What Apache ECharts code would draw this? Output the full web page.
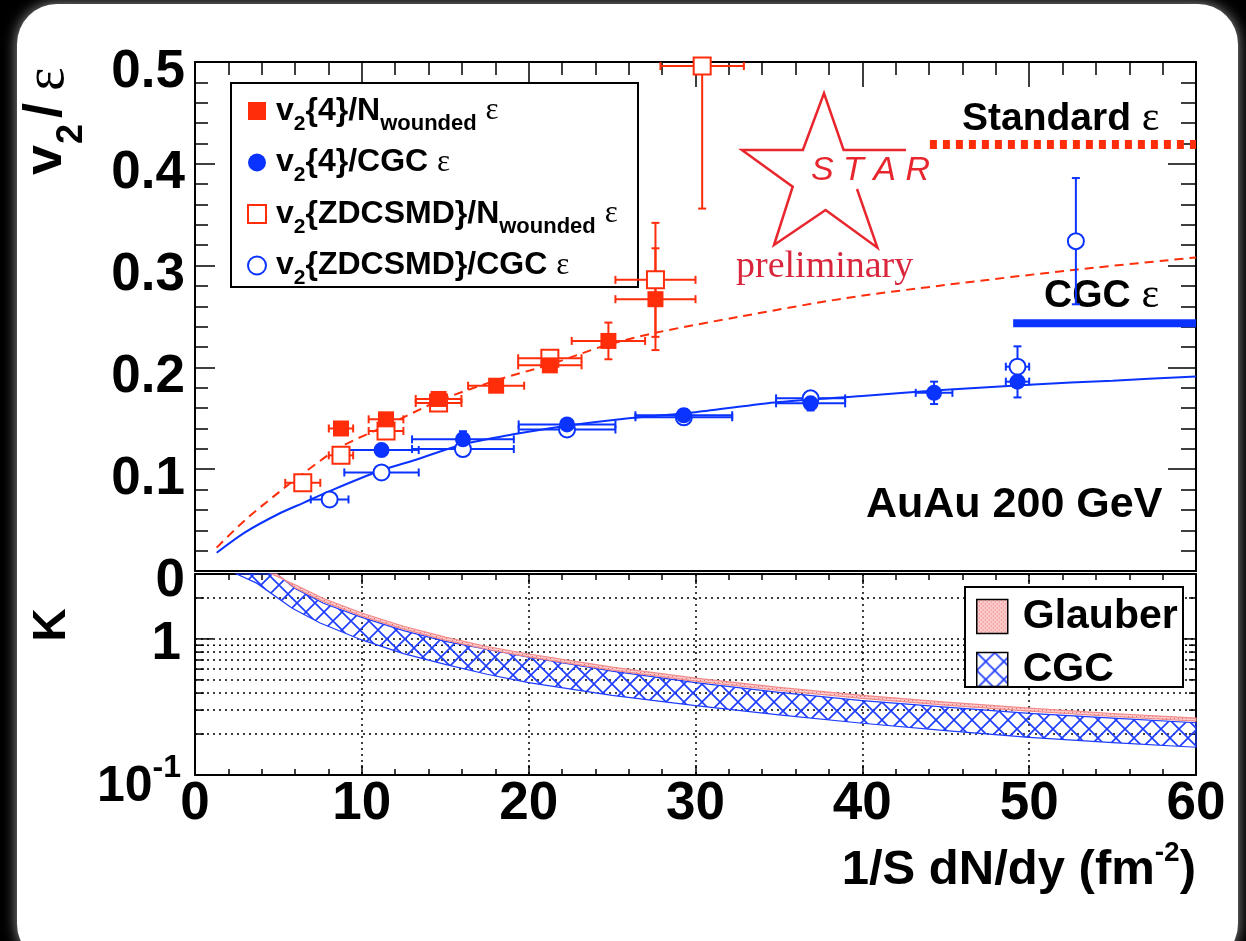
<!DOCTYPE html>
<html>
<head>
<meta charset="utf-8">
<script src="https://cdn.jsdelivr.net/npm/echarts@6/dist/echarts.min.js"></script>
<style>
  html, body { margin: 0; padding: 0; background: #000; }
  #chart { width: 1246px; height: 941px; }
</style>
</head>
<body>
<div id="chart"></div>
<script>
// ---- axis ranges ----
const X_RANGE = [0, 60];
const V_RANGE = [0, 0.5];
const K_RANGE = [0.1, 3];

// ---- v2/eps points: [1/S dN/dy, v2/eps, x error, y error] ----
const v4Glauber = [
  [8.75, 0.140, 0.73, 0.004], [11.45, 0.149, 1.04, 0.004], [14.6, 0.169, 1.37, 0.005],
  [18.05, 0.182, 1.68, 0.005], [21.27, 0.202, 1.9, 0.006], [24.78, 0.226, 2.2, 0.018],
  [27.6, 0.267, 2.4, 0.050]
];
const zdcGlauber = [
  [6.46, 0.0866, 1.05, 0.004], [8.75, 0.1136, 0.73, 0.004], [11.45, 0.1375, 1.04, 0.004],
  [14.6, 0.165, 1.37, 0.004], [21.27, 0.209, 1.9, 0.005], [27.6, 0.286, 2.4, 0.056],
  [30.4, 0.496, 2.5, 0.14]
];
const v4Cgc = [
  [11.18, 0.1188, 2.23, 0.003], [16.06, 0.1293, 3.05, 0.008], [22.3, 0.144, 2.9, 0.005],
  [29.3, 0.153, 2.9, 0.006], [36.9, 0.1647, 2.07, 0.007], [44.3, 0.175, 1.1, 0.011],
  [49.3, 0.186, 0.7, 0.0155]
];
const zdcCgc = [
  [8.07, 0.0703, 1.13, 0.003], [11.18, 0.0968, 2.23, 0.003], [16.06, 0.1198, 3.05, 0.004],
  [22.3, 0.139, 2.9, 0.004], [29.3, 0.151, 2.9, 0.004], [36.9, 0.1696, 2.07, 0.006],
  [49.3, 0.2007, 0.7, 0.02], [52.8, 0.324, 0, 0.062]
];

// ---- fit curves [x, v2/eps] ----
const glauberFit = [
  [1.3, 0.023], [3, 0.050], [5, 0.077], [6.5, 0.096], [8.75, 0.122], [11.5, 0.143],
  [14.6, 0.167], [18, 0.187], [21.3, 0.203], [24.5, 0.221], [27.6, 0.234], [32.7, 0.250],
  [39, 0.268], [45, 0.281], [52.8, 0.296], [60, 0.308]
];
const cgcFit = [
  [1.3, 0.018], [3, 0.038], [5, 0.056], [6.5, 0.067], [8, 0.078], [11, 0.098], [13, 0.108],
  [16, 0.124], [19, 0.134], [22, 0.142], [26, 0.150], [30, 0.156], [35, 0.166], [40, 0.172],
  [45, 0.178], [50, 0.183], [55, 0.187], [60, 0.191]
];

// ---- hydro limits ----
const standardEpsLimit = [[44.05, 0.419], [60, 0.419]];
const cgcEpsLimit = [[49.04, 0.2434], [60, 0.2434]];

// ---- Knudsen number bands [x, K] ----
const glauberKHigh = [
  [4.6, 3.0], [6, 2.5], [7.7, 1.98], [10, 1.55], [12.5, 1.24], [15, 1.03], [17.5, 0.88],
  [20, 0.775], [25, 0.62], [30, 0.515], [35, 0.44], [40, 0.385], [45, 0.343], [50, 0.31],
  [55, 0.283], [60, 0.262]
];
const glauberKLow = [
  [4.9, 3.0], [6, 2.38], [7.7, 1.88], [10, 1.47], [12.5, 1.18], [15, 0.98], [17.5, 0.84],
  [20, 0.737], [25, 0.59], [30, 0.49], [35, 0.418], [40, 0.366], [45, 0.326], [50, 0.295],
  [55, 0.269], [60, 0.249]
];
const cgcKHigh = [
  [4.9, 3.0], [6, 2.35], [7.7, 1.83], [10, 1.44], [12.5, 1.15], [15, 0.96], [20, 0.734],
  [25, 0.58], [30, 0.477], [35, 0.405], [40, 0.352], [45, 0.315], [50, 0.284], [55, 0.262],
  [60, 0.242]
];
const cgcKLow = [
  [2.5, 3.0], [3.7, 2.57], [5.83, 1.68], [7.5, 1.31], [10, 0.983], [12.5, 0.78], [15, 0.65],
  [17.5, 0.55], [20, 0.477], [25, 0.385], [30, 0.323], [35, 0.277], [40, 0.24], [45, 0.212],
  [50, 0.189], [55, 0.173], [60, 0.16]
];
const kGrid = [2, 1, 0.9, 0.8, 0.7, 0.6, 0.5, 0.4, 0.3, 0.2];

// ---- styling ----
const RED = '#ff2d0a';
const BLUE = '#0a33ff';
const SANS = '"Liberation Sans", Arial, Helvetica, sans-serif';
const SERIF = '"Liberation Serif", "Times New Roman", serif';

function hatchPattern() {
  const c = document.createElement('canvas');
  c.width = 18; c.height = 18;
  const g = c.getContext('2d');
  g.strokeStyle = '#1d3cff';
  g.lineWidth = 1.6;
  g.beginPath();
  g.moveTo(0, 0); g.lineTo(18, 18);
  g.moveTo(18, 0); g.lineTo(0, 18);
  g.stroke();
  return { image: c, repeat: 'repeat' };
}
function dotPattern() {
  const c = document.createElement('canvas');
  c.width = 4; c.height = 4;
  const g = c.getContext('2d');
  g.fillStyle = '#fbcaca';
  g.fillRect(0, 0, 4, 4);
  g.fillStyle = '#ee6a6a';
  g.fillRect(0, 0, 1, 1);
  g.fillRect(2, 2, 1, 1);
  return { image: c, repeat: 'repeat' };
}
const HATCH = hatchPattern();
const DOTS = dotPattern();

function bandRenderer(high, low, fill, stroke) {
  return function (params, api) {
    if (params.dataIndex !== 0) return null;
    const pts = high.map(p => api.coord(p)).concat(low.slice().reverse().map(p => api.coord(p)));
    return { type: 'polygon', shape: { points: pts }, style: { fill: fill, stroke: stroke, lineWidth: 1.2 }, silent: true };
  };
}

function errorBars(color) {
  return function (params, api) {
    const x = api.value(0), y = api.value(1), ex = api.value(2), ey = api.value(3);
    const st = { stroke: color, lineWidth: 2 };
    const cap = 4;
    const kids = [];
    const seg = (x1, y1, x2, y2) => kids.push({ type: 'line', shape: { x1, y1, x2, y2 }, style: st, silent: true });
    if (ex > 0) {
      const a = api.coord([x - ex, y]), b = api.coord([x + ex, y]);
      seg(a[0], a[1], b[0], b[1]);
      seg(a[0], a[1] - cap, a[0], a[1] + cap);
      seg(b[0], b[1] - cap, b[0], b[1] + cap);
    }
    if (ey > 0) {
      const hi = Math.min(y + ey, V_RANGE[1]);
      const a = api.coord([x, y - ey]), b = api.coord([x, hi]);
      seg(a[0], a[1], b[0], b[1]);
      seg(a[0] - cap, a[1], a[0] + cap, a[1]);
      if (y + ey <= V_RANGE[1]) seg(b[0] - cap, b[1], b[0] + cap, b[1]);
    }
    return { type: 'group', children: kids };
  };
}

function kGridRenderer(params, api) {
  const v = api.value(1);
  const L = api.coord([X_RANGE[0], v]), R = api.coord([X_RANGE[1], v]);
  const major = Math.abs(v - 1) < 1e-9;
  const lenL = major ? 18 : 9, lenR = major ? 15 : 7;
  return {
    type: 'group', silent: true,
    children: [
      { type: 'line', shape: { x1: L[0], y1: L[1], x2: R[0], y2: R[1] }, style: { stroke: '#000', lineWidth: 1.5, lineDash: [2, 4] } },
      { type: 'line', shape: { x1: L[0], y1: L[1], x2: L[0] + lenL, y2: L[1] }, style: { stroke: '#000', lineWidth: 1.5 } },
      { type: 'line', shape: { x1: R[0] - lenR, y1: R[1], x2: R[0], y2: R[1] }, style: { stroke: '#000', lineWidth: 1.5 } }
    ]
  };
}

const NAME_V4_GL = 'v2{4}/Nwounded ε';
const NAME_V4_CGC = 'v2{4}/CGC ε';
const NAME_ZDC_GL = 'v2{ZDCSMD}/Nwounded ε';
const NAME_ZDC_CGC = 'v2{ZDCSMD}/CGC ε';
const legendText = {};
legendText[NAME_V4_GL] = 'v{s|2}{4}/N{w|wounded} {e|ε}';
legendText[NAME_V4_CGC] = 'v{s|2}{4}/CGC {e|ε}';
legendText[NAME_ZDC_GL] = 'v{s|2}{ZDCSMD}/N{w|wounded} {e|ε}';
legendText[NAME_ZDC_CGC] = 'v{s|2}{ZDCSMD}/CGC {e|ε}';

const lineAx = { onZero: false, lineStyle: { color: '#000', width: 2 } };
const tickSt = { color: '#000', width: 1.5 };
const tickLabel = { fontFamily: SANS, fontWeight: 'bold', fontSize: 53, color: '#000' };

const chart = echarts.init(document.getElementById('chart'), null, { width: 1246, height: 941 });

chart.setOption({
  animation: false,
  backgroundColor: '#000',
  grid: [
    { left: 195, right: 50, top: 62, height: 509, outerBoundsMode: 'none', containLabel: false },
    { left: 195, right: 50, top: 574, height: 201, outerBoundsMode: 'none', containLabel: false }
  ],
  xAxis: [
    { gridIndex: 0, type: 'value', min: X_RANGE[0], max: X_RANGE[1], interval: 10, position: 'bottom',
      axisLine: lineAx, axisTick: { show: false }, axisLabel: { show: false }, splitLine: { show: false } },
    { gridIndex: 0, type: 'value', min: X_RANGE[0], max: X_RANGE[1], interval: 10, position: 'top',
      axisLine: lineAx, axisTick: { inside: true, length: 25, lineStyle: tickSt },
      minorTick: { show: true, splitNumber: 5, length: 13, lineStyle: tickSt },
      axisLabel: { show: false }, splitLine: { show: false } },
    { gridIndex: 1, type: 'value', min: X_RANGE[0], max: X_RANGE[1], interval: 10, position: 'bottom',
      axisLine: lineAx, axisTick: { inside: true, length: 10, lineStyle: tickSt },
      minorTick: { show: true, splitNumber: 5, length: 6, lineStyle: tickSt },
      axisLabel: Object.assign({ margin: 3, lineHeight: 53 }, tickLabel),
      splitLine: { show: true, lineStyle: { color: '#000', width: 1.5, type: [2, 4] } } },
    { gridIndex: 1, type: 'value', min: X_RANGE[0], max: X_RANGE[1], interval: 10, position: 'top',
      axisLine: lineAx, axisTick: { inside: true, length: 10, lineStyle: tickSt },
      minorTick: { show: true, splitNumber: 5, length: 6, lineStyle: tickSt },
      axisLabel: { show: false }, splitLine: { show: false } }
  ],
  yAxis: [
    { gridIndex: 0, type: 'value', min: V_RANGE[0], max: V_RANGE[1], interval: 0.1, position: 'left',
      axisLine: lineAx, axisTick: { inside: true, length: 20, lineStyle: tickSt },
      minorTick: { show: true, splitNumber: 5, length: 13, lineStyle: tickSt },
      axisLabel: {
        margin: 10,
        formatter: function (v) { return '{a|' + (v === 0 ? '0' : v.toFixed(1)) + '}'; },
        rich: { a: { fontFamily: SANS, fontWeight: 'bold', fontSize: 53, color: '#000', padding: [20, 0, 0, 0] } }
      },
      splitLine: { show: false } },
    { gridIndex: 0, type: 'value', min: V_RANGE[0], max: V_RANGE[1], interval: 0.1, position: 'right',
      axisLine: lineAx, axisTick: { inside: true, length: 28, lineStyle: tickSt },
      minorTick: { show: true, splitNumber: 5, length: 15, lineStyle: tickSt },
      axisLabel: { show: false }, splitLine: { show: false } },
    { gridIndex: 1, type: 'log', logBase: 10, min: K_RANGE[0], max: K_RANGE[1], position: 'left',
      axisLine: lineAx, axisTick: { show: false }, splitLine: { show: false },
      axisLabel: {
        margin: 14,
        formatter: function (v) {
          if (Math.abs(v - 1) < 1e-9) return '{a|1}';
          if (Math.abs(v - 0.1) < 1e-9) return '{b|10}{s|-1}';
          return '';
        },
        rich: {
          a: { fontFamily: SANS, fontWeight: 'bold', fontSize: 53, color: '#000', padding: [10, 0, 0, 0] },
          b: { fontFamily: SANS, fontWeight: 'bold', fontSize: 50, color: '#000', padding: [24, 0, 0, 0] },
          s: { fontFamily: SANS, fontWeight: 'bold', fontSize: 32, color: '#000', padding: [0, 0, 13, 0] }
        }
      } },
    { gridIndex: 1, type: 'log', logBase: 10, min: K_RANGE[0], max: K_RANGE[1], position: 'right',
      axisLine: lineAx, axisTick: { show: false }, axisLabel: { show: false }, splitLine: { show: false } }
  ],
  legend: [
    {
      left: 242, top: 82, orient: 'vertical', itemWidth: 18, itemHeight: 18, itemGap: 4,
      selectedMode: false, z: 6,
      data: [NAME_V4_GL, NAME_V4_CGC, NAME_ZDC_GL, NAME_ZDC_CGC],
      formatter: function (name) { return legendText[name]; },
      textStyle: {
        fontFamily: SANS, fontWeight: 'bold', fontSize: 32, lineHeight: 46, color: '#000',
        padding: [0, 0, 0, 5],
        rich: {
          s: { fontFamily: SANS, fontWeight: 'bold', fontSize: 21, lineHeight: 20, color: '#000', padding: [26, 0, 0, 0] },
          w: { fontFamily: SANS, fontWeight: 'bold', fontSize: 22, lineHeight: 20, color: '#000', padding: [26, 0, 0, 0] },
          e: { fontFamily: SERIF, fontWeight: 'normal', fontSize: 31, lineHeight: 46, color: '#000' }
        }
      }
    },
    {
      left: 971, top: 591, orient: 'vertical', itemWidth: 31, itemHeight: 34, itemGap: 12,
      selectedMode: false, z: 6,
      data: [
        { name: 'Glauber', icon: 'rect', itemStyle: { color: DOTS, borderColor: '#000', borderWidth: 1.5 } },
        { name: 'CGC', icon: 'rect', itemStyle: { color: HATCH, borderColor: '#000', borderWidth: 1.5 } }
      ],
      textStyle: { fontFamily: SANS, fontWeight: 'bold', fontSize: 41, lineHeight: 34, color: '#000', padding: [0, 0, 0, 10] }
    }
  ],
  graphic: [
    { type: 'rect', z: -10, silent: true,
      shape: { x: 17, y: 4, width: 1221, height: 960, r: 40 },
      style: { fill: '#fff', shadowBlur: 14, shadowColor: 'rgba(170,170,170,0.9)' } },
    { type: 'rect', z: 3, silent: true, shape: { x: 231, y: 83, width: 407, height: 204 },
      style: { fill: '#fff', stroke: '#000', lineWidth: 2 } },
    { type: 'rect', z: 3, silent: true, shape: { x: 965, y: 587, width: 218, height: 100 },
      style: { fill: '#fff', stroke: '#000', lineWidth: 2 } },
    // STAR logo
    { type: 'polyline', z: 3, silent: true,
      shape: { points: [[906, 150], [843.6, 150], [824, 93.3], [802.9, 150], [741.9, 150], [792.7, 186.7],
        [774, 245], [825.6, 210], [877.4, 247.7], [857, 189]] },
      style: { stroke: '#e8262e', lineWidth: 2.5, fill: null } },
    { type: 'text', z: 3, silent: true, x: 811, y: 171,
      style: { text: 'S T A R', fontFamily: SANS, fontStyle: 'italic', fontSize: 34, fill: '#e8262e', verticalAlign: 'middle' } },
    { type: 'text', z: 3, silent: true, x: 736, y: 267,
      style: { text: 'preliminary', fontFamily: SERIF, fontSize: 38, fill: '#d9263c', verticalAlign: 'middle' } },
    // annotations
    { type: 'text', z: 3, silent: true, x: 962, y: 119,
      style: { text: '{a|Standard }{e|ε}', verticalAlign: 'middle',
        rich: { a: { fontFamily: SANS, fontWeight: 'bold', fontSize: 39, fill: '#000' },
                e: { fontFamily: SERIF, fontSize: 42, fill: '#000' } } } },
    { type: 'text', z: 3, silent: true, x: 1044, y: 296,
      style: { text: '{a|CGC }{e|ε}', verticalAlign: 'middle',
        rich: { a: { fontFamily: SANS, fontWeight: 'bold', fontSize: 39, fill: '#000' },
                e: { fontFamily: SERIF, fontSize: 42, fill: '#000' } } } },
    { type: 'text', z: 3, silent: true, x: 866, y: 505,
      style: { text: 'AuAu 200 GeV', fontFamily: SANS, fontWeight: 'bold', fontSize: 43, fill: '#000', verticalAlign: 'middle' } },
    // axis titles
    { type: 'text', z: 3, silent: true, x: 1196, y: 870,
      style: { text: '1/S dN/dy (fm{s|-2})', align: 'right', verticalAlign: 'middle',
        fontFamily: SANS, fontWeight: 'bold', fontSize: 49, fill: '#000',
        rich: { s: { fontFamily: SANS, fontWeight: 'bold', fontSize: 28, fill: '#000', padding: [0, 0, 33, 0] } } } },
    { type: 'group', x: 65, y: 175, rotation: Math.PI / 2, z: 3, silent: true,
      children: [
        { type: 'text', x: 0, y: -19, style: { text: 'v', fontFamily: SANS, fontWeight: 'bold', fontSize: 54, fill: '#000', verticalAlign: 'middle' } },
        { type: 'text', x: 31, y: 7, style: { text: '2', fontFamily: SANS, fontWeight: 'bold', fontSize: 36, fill: '#000', verticalAlign: 'middle' } },
        { type: 'text', x: 57, y: -19, style: { text: '/', fontFamily: SANS, fontWeight: 'bold', fontSize: 54, fill: '#000', verticalAlign: 'middle' } },
        { type: 'text', x: 84, y: -17, style: { text: 'ε', fontFamily: SERIF, fontSize: 56, fill: '#000', verticalAlign: 'middle' } }
      ] },
    { type: 'text', x: 52, y: 625, rotation: Math.PI / 2, z: 3, silent: true,
      style: { text: 'K', fontFamily: SANS, fontWeight: 'bold', fontSize: 46, fill: '#000', align: 'center', verticalAlign: 'middle' } }
  ],
  series: [
    // K panel: grid lines and ticks
    { type: 'custom', xAxisIndex: 2, yAxisIndex: 2, z: 1, silent: true,
      data: kGrid.map(v => [X_RANGE[0], v]), renderItem: kGridRenderer },
    { type: 'custom', name: 'CGC', xAxisIndex: 2, yAxisIndex: 2, z: 2, silent: true,
      itemStyle: { color: HATCH, borderColor: '#000', borderWidth: 1.5 },
      data: cgcKHigh, renderItem: bandRenderer(cgcKHigh, cgcKLow, HATCH, '#1d3cff') },
    { type: 'custom', name: 'Glauber', xAxisIndex: 2, yAxisIndex: 2, z: 2, silent: true,
      itemStyle: { color: DOTS, borderColor: '#000', borderWidth: 1.5 },
      data: glauberKHigh, renderItem: bandRenderer(glauberKHigh, glauberKLow, DOTS, '#f28a8a') },
    // v2/eps panel: fits and limits
    { type: 'line', xAxisIndex: 0, yAxisIndex: 0, z: 2, data: glauberFit, showSymbol: false, smooth: 0.3, silent: true,
      lineStyle: { color: RED, width: 2, type: [9, 6] } },
    { type: 'line', xAxisIndex: 0, yAxisIndex: 0, z: 2, data: cgcFit, showSymbol: false, smooth: 0.3, silent: true,
      lineStyle: { color: BLUE, width: 2 } },
    { type: 'line', xAxisIndex: 0, yAxisIndex: 0, z: 2, data: standardEpsLimit, showSymbol: false, silent: true,
      lineStyle: { color: RED, width: 9, type: [7, 6], cap: 'butt' } },
    { type: 'line', xAxisIndex: 0, yAxisIndex: 0, z: 2, data: cgcEpsLimit, showSymbol: false, silent: true,
      lineStyle: { color: BLUE, width: 8, cap: 'butt' } },
    // error bars
    { type: 'custom', xAxisIndex: 0, yAxisIndex: 0, z: 3, clip: true, silent: true,
      dimensions: ['x', 'y', 'ex', 'ey'], encode: { x: 0, y: 1 }, data: zdcGlauber, renderItem: errorBars(RED) },
    { type: 'custom', xAxisIndex: 0, yAxisIndex: 0, z: 3, clip: true, silent: true,
      dimensions: ['x', 'y', 'ex', 'ey'], encode: { x: 0, y: 1 }, data: v4Glauber, renderItem: errorBars(RED) },
    { type: 'custom', xAxisIndex: 0, yAxisIndex: 0, z: 3, clip: true, silent: true,
      dimensions: ['x', 'y', 'ex', 'ey'], encode: { x: 0, y: 1 }, data: zdcCgc, renderItem: errorBars(BLUE) },
    { type: 'custom', xAxisIndex: 0, yAxisIndex: 0, z: 3, clip: true, silent: true,
      dimensions: ['x', 'y', 'ex', 'ey'], encode: { x: 0, y: 1 }, data: v4Cgc, renderItem: errorBars(BLUE) },
    // markers
    { type: 'scatter', name: NAME_ZDC_GL, xAxisIndex: 0, yAxisIndex: 0, z: 4, symbol: 'rect', symbolSize: 17,
      itemStyle: { color: '#fff', borderColor: RED, borderWidth: 2, opacity: 1 },
      data: zdcGlauber.map(p => [p[0], p[1]]) },
    { type: 'scatter', name: NAME_ZDC_CGC, xAxisIndex: 0, yAxisIndex: 0, z: 4, symbol: 'circle', symbolSize: 16,
      itemStyle: { color: '#fff', borderColor: BLUE, borderWidth: 2, opacity: 1 },
      data: zdcCgc.map(p => [p[0], p[1]]) },
    { type: 'scatter', name: NAME_V4_GL, xAxisIndex: 0, yAxisIndex: 0, z: 5, symbol: 'rect', symbolSize: 16,
      itemStyle: { color: RED, opacity: 1 }, data: v4Glauber.map(p => [p[0], p[1]]) },
    { type: 'scatter', name: NAME_V4_CGC, xAxisIndex: 0, yAxisIndex: 0, z: 5, symbol: 'circle', symbolSize: 16,
      itemStyle: { color: BLUE, opacity: 1 }, data: v4Cgc.map(p => [p[0], p[1]]) }
  ]
});
</script>
</body>
</html>
